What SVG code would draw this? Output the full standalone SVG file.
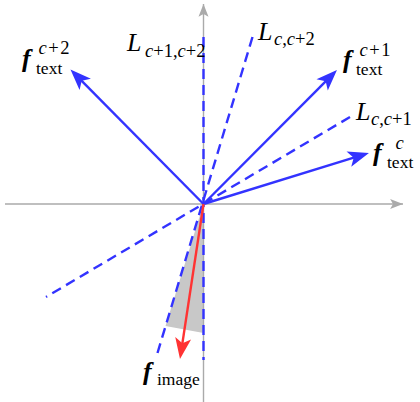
<svg xmlns="http://www.w3.org/2000/svg" width="420" height="402" viewBox="0 0 420 402">
<style>
.axis{stroke:#aaaaaa;stroke-width:1.4;fill:none}
.vec{stroke:#3333ff;stroke-width:2.4;fill:none}
.img{stroke:#ff3333;stroke-width:2.4;fill:none}
.dash{stroke:#3333ff;stroke-width:2.4;fill:none;stroke-dasharray:10 6}
.m{font-family:"Liberation Serif",serif;font-size:26px;fill:#000}
.s{font-family:"Liberation Serif",serif;font-size:17.5px;fill:#000}
.u{font-family:"Liberation Serif",serif;font-size:18.5px;fill:#000}
.bi{font-weight:bold;font-style:italic}
.it{font-style:italic}
</style>
<defs>
<marker id="ah" markerUnits="userSpaceOnUse" markerWidth="30" markerHeight="30" viewBox="-25 -15 30 30" refX="-10" refY="0" orient="auto" overflow="visible">
<path d="M0,0 L-21,-8 L-16,0 L-21,8 Z" fill="#3333ff"/>
</marker>
<marker id="ahr" markerUnits="userSpaceOnUse" markerWidth="30" markerHeight="30" viewBox="-25 -15 30 30" refX="-10" refY="0" orient="auto" overflow="visible">
<path d="M0,0 L-21,-8 L-16,0 L-21,8 Z" fill="#ff3333"/>
</marker>
<marker id="ahg" markerUnits="userSpaceOnUse" markerWidth="20" markerHeight="20" viewBox="-12 -6 14 12" refX="0" refY="0" orient="auto" overflow="visible">
<path d="M0,0 L-9,-3.5 L-7,0 L-9,3.5 Z" fill="#aaaaaa"/>
</marker>
</defs>
<g id="region">
<polygon points="203.5,204 165.5,326 203.5,333" fill="#c8c8c8"/>
</g>
<g id="axes">
<line class="axis" x1="5" y1="204" x2="403" y2="204" marker-end="url(#ahg)"/>
<line class="axis" x1="203.5" y1="402" x2="203.5" y2="4" marker-end="url(#ahg)"/>
</g>
<g id="connectors">
<line class="dash" x1="203.5" y1="37" x2="203.5" y2="360"/>
<line class="dash" x1="252.5" y1="37" x2="157.5" y2="353"/>
<line class="dash" x1="350" y1="117" x2="46" y2="297"/>
<line class="vec" x1="203.5" y1="204" x2="77.5" y2="76.6" marker-end="url(#ah)"/>
<line class="vec" x1="203.5" y1="204" x2="329.9" y2="77.1" marker-end="url(#ah)"/>
<line class="vec" x1="203.5" y1="204" x2="359.4" y2="155.9" marker-end="url(#ah)"/>
<line class="img" x1="203.5" y1="204" x2="181.5" y2="349.1" marker-end="url(#ahr)"/>
</g>
<g id="f_text_c2">
<text class="m bi" x="22" y="67">f</text>
<text class="s" x="36" y="74">text</text>
<text class="u" x="38.5" y="54"><tspan class="it">c</tspan><tspan dx="1.5">+</tspan><tspan dx="1.5">2</tspan></text>
</g>
<g id="L_c1_c2">
<text class="m it" x="127" y="51">L</text>
<text class="u" x="145" y="57"><tspan class="it">c</tspan>+1,<tspan class="it">c</tspan>+2</text>
</g>
<g id="L_c_c2">
<text class="m it" x="258" y="40">L</text>
<text class="u" x="274" y="45"><tspan class="it">c</tspan>,<tspan class="it">c</tspan>+2</text>
</g>
<g id="f_text_c1">
<text class="m bi" x="343" y="68">f</text>
<text class="s" x="356" y="75">text</text>
<text class="u" x="359.5" y="56"><tspan class="it">c</tspan><tspan dx="1.5">+</tspan><tspan dx="1.5">1</tspan></text>
</g>
<g id="L_c_c1">
<text class="m it" x="356" y="120">L</text>
<text class="u" x="371" y="125"><tspan class="it">c</tspan>,<tspan class="it">c</tspan>+1</text>
</g>
<g id="f_text_c">
<text class="m bi" x="373" y="161">f</text>
<text class="s" x="387" y="168">text</text>
<text class="u it" x="395.5" y="149">c</text>
</g>
<g id="f_image">
<text class="m bi" x="143" y="380">f</text>
<text class="s" x="157" y="385">image</text>
</g>
</svg>
